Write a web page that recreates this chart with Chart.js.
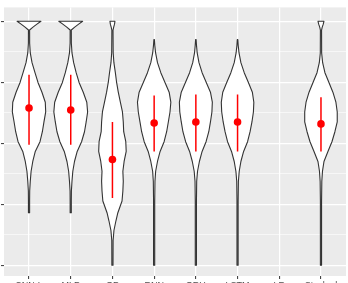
<!DOCTYPE html>
<html>
<head>
<meta charset="utf-8">
<script src="https://cdn.jsdelivr.net/npm/chart.js@4/dist/chart.umd.min.js"></script>
<style>
  html, body { margin: 0; padding: 0; background: #fff; }
  body { width: 348px; height: 283px; overflow: hidden; position: relative; }
  #chart { position: absolute; left: -50px; top: 0; }
</style>
</head>
<body>
<canvas id="chart" width="400" height="300"></canvas>
<script>
  // categories + summary (mean with lower/upper bar)
  var groups = ["CNN-L", "MLP", "GP", "RNN", "GRU", "LSTM", "LR", "Stacked"];
  var means = [0.644, 0.636, 0.433, 0.583, 0.587, 0.587, null, 0.579];
  var lower = [0.494, 0.494, 0.275, 0.466, 0.466, 0.466, null, 0.466];
  var upper = [0.781, 0.781, 0.587, 0.696, 0.700, 0.700, null, 0.688];
  var yTicks = [0, 0.125, 0.25, 0.375, 0.5, 0.625, 0.75, 0.875, 1];

  // violin outlines: values and half widths
  var capY = [0.215, 0.263, 0.304, 0.344, 0.385, 0.425, 0.466, 0.506, 0.547, 0.587, 0.628, 0.668, 0.709, 0.749, 0.789, 0.830, 0.870, 0.910, 0.964, 0.976, 0.988, 1.0];
  var v1W = [0.014, 0.014, 0.016, 0.03, 0.05, 0.09, 0.15, 0.263, 0.32, 0.358, 0.40, 0.39, 0.31, 0.215, 0.143, 0.072, 0.03, 0.015, 0.014, 0.095, 0.19, 0.286];
  var v2W = [0.014, 0.014, 0.016, 0.03, 0.05, 0.09, 0.155, 0.26, 0.33, 0.37, 0.405, 0.385, 0.30, 0.20, 0.13, 0.07, 0.03, 0.015, 0.014, 0.095, 0.19, 0.286];
  var v3Y = [0, 0.101, 0.142, 0.182, 0.215, 0.263, 0.304, 0.344, 0.385, 0.425, 0.466, 0.506, 0.547, 0.587, 0.628, 0.668, 0.709, 0.749, 0.789, 0.830, 0.870, 0.964, 0.976, 0.988, 1.0];
  var v3W = [0.014, 0.016, 0.036, 0.084, 0.13, 0.23, 0.25, 0.26, 0.25, 0.28, 0.33, 0.32, 0.27, 0.26, 0.24, 0.19, 0.14, 0.10, 0.07, 0.035, 0.018, 0.014, 0.03, 0.05, 0.06];
  var midY = [0, 0.101, 0.263, 0.344, 0.385, 0.425, 0.466, 0.506, 0.547, 0.587, 0.628, 0.668, 0.709, 0.749, 0.789, 0.830, 0.870, 0.900, 0.925];
  var v4W = [0.014, 0.014, 0.014, 0.02, 0.036, 0.08, 0.143, 0.239, 0.30, 0.34, 0.38, 0.40, 0.36, 0.26, 0.16, 0.08, 0.035, 0.016, 0.006];
  var v5W = [0.014, 0.014, 0.014, 0.02, 0.04, 0.085, 0.15, 0.245, 0.31, 0.35, 0.385, 0.395, 0.35, 0.25, 0.15, 0.075, 0.032, 0.016, 0.006];
  var v6W = [0.014, 0.014, 0.014, 0.02, 0.04, 0.08, 0.145, 0.24, 0.30, 0.345, 0.38, 0.39, 0.355, 0.26, 0.16, 0.08, 0.035, 0.016, 0.006];
  var v8Y = [0, 0.101, 0.263, 0.344, 0.385, 0.425, 0.466, 0.506, 0.547, 0.587, 0.628, 0.668, 0.709, 0.749, 0.789, 0.830, 0.870, 0.964, 0.976, 0.988, 1.0];
  var v8W = [0.014, 0.014, 0.014, 0.02, 0.036, 0.072, 0.167, 0.263, 0.334, 0.39, 0.39, 0.358, 0.286, 0.191, 0.095, 0.04, 0.016, 0.014, 0.03, 0.055, 0.072];

  var violinY = [capY, capY, v3Y, midY, midY, midY, [], v8Y];
  var violinW = [v1W, v2W, v3W, v4W, v5W, v6W, [], v8W];

  var rangeData = [];
  var meanData = [];
  groups.forEach((g, i) => {
    if (means[i] === null) return;
    rangeData.push({ x: i + 1, y: lower[i] }, { x: i + 1, y: upper[i] }, { x: i + 1, y: null });
    meanData.push({ x: i + 1, y: means[i] });
  });

  var isMajor = (v) => Math.abs(v * 4 - Math.round(v * 4)) < 1e-6;

  // grey panel behind the grid
  const panel = {
    id: "panel",
    beforeDraw(chart) {
      const a = chart.chartArea, c = chart.ctx;
      c.save();
      c.fillStyle = "#ffffff";
      c.fillRect(0, 0, chart.width, chart.height);
      c.fillStyle = "#EBEBEB";
      c.fillRect(a.left, a.top, a.right - a.left, a.bottom - a.top);
      c.restore();
    }
  };

  const violins = {
    id: "violins",
    beforeDatasetsDraw(chart) {
      const c = chart.ctx, xs = chart.scales.x, ys = chart.scales.y;
      c.save();
      c.lineWidth = 1.1;
      c.strokeStyle = "#333333";
      c.fillStyle = "#ffffff";
      c.lineJoin = "round";
      violinY.forEach((yv, i) => {
        if (!yv.length) return;
        const w = violinW[i];
        c.beginPath();
        for (let j = 0; j < yv.length; j++) {
          c.lineTo(xs.getPixelForValue(i + 1 - w[j]), ys.getPixelForValue(yv[j]));
        }
        for (let j = yv.length - 1; j >= 0; j--) {
          c.lineTo(xs.getPixelForValue(i + 1 + w[j]), ys.getPixelForValue(yv[j]));
        }
        c.closePath();
        c.fill();
        c.stroke();
      });
      c.restore();
    }
  };

  new Chart("chart", {
    type: "scatter",
    data: {
      datasets: [{
        data: rangeData,
        showLine: true,
        spanGaps: false,
        borderColor: "#FF0000",
        borderWidth: 1.5,
        pointRadius: 0
      }, {
        data: meanData,
        pointRadius: 3.8,
        backgroundColor: "#FF0000",
        borderWidth: 0
      }]
    },
    options: {
      responsive: false,
      animation: false,
      devicePixelRatio: 1,
      layout: { padding: { top: 4, right: 2.4, left: 0, bottom: 0 } },
      plugins: { legend: { display: false }, tooltip: { enabled: false } },
      scales: {
        x: {
          type: "linear",
          min: 0.4,
          max: 8.6,
          afterBuildTicks: (s) => { s.ticks = groups.map((g, i) => ({ value: i + 1 })); },
          afterFit: (s) => { s.height = 24; },
          border: { display: false },
          grid: { color: "#ffffff", lineWidth: 1.2, tickLength: 3, tickColor: "#333333", tickWidth: 1 },
          ticks: {
            autoSkip: false,
            maxRotation: 0,
            padding: 1,
            color: "#4D4D4D",
            font: { family: "'Liberation Sans', Arial, sans-serif", size: 9 },
            callback: (v) => groups[Math.round(v) - 1]
          }
        },
        y: {
          min: -0.0445,
          max: 1.0567,
          afterBuildTicks: (s) => { s.ticks = yTicks.map((v) => ({ value: v })); },
          afterFit: (s) => { s.width = 54; },
          border: { display: false },
          grid: {
            color: "#ffffff",
            lineWidth: (ctx) => (ctx.tick && isMajor(ctx.tick.value) ? 1.2 : 0.6),
            tickLength: 3,
            tickWidth: 1,
            tickColor: (ctx) => (ctx.tick && isMajor(ctx.tick.value) ? "#333333" : "rgba(0,0,0,0)")
          },
          ticks: {
            padding: 2,
            color: "#4D4D4D",
            font: { family: "'Liberation Sans', Arial, sans-serif", size: 9 },
            callback: (v) => (isMajor(v) ? v.toFixed(2) : "")
          }
        }
      }
    },
    plugins: [panel, violins]
  });
</script>
</body>
</html>
